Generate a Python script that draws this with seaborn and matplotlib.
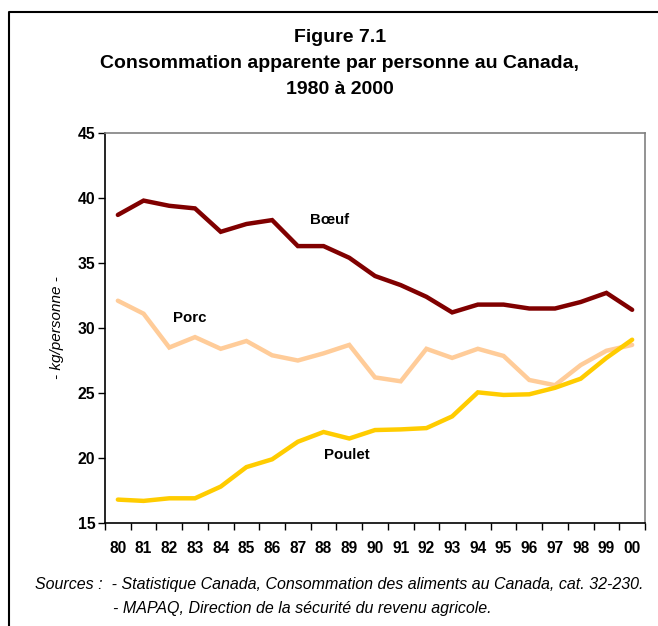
#!/usr/bin/env python3
# -*- coding: utf-8 -*-
"""
Figure 7.1 - Consommation apparente par personne au Canada, 1980 à 2000
"""

import pandas as pd
import matplotlib
matplotlib.use('Agg')
import matplotlib.pyplot as plt
from matplotlib.lines import Line2D
import seaborn as sns

# 데이터 (kg/personne)
annees = ['80', '81', '82', '83', '84', '85', '86', '87', '88', '89', '90',
          '91', '92', '93', '94', '95', '96', '97', '98', '99', '00']
boeuf = [38.7, 39.8, 39.4, 39.2, 37.4, 38.0, 38.3, 36.3, 36.3, 35.4, 34.0,
         33.3, 32.4, 31.2, 31.8, 31.8, 31.5, 31.5, 32.0, 32.7, 31.4]
porc = [32.1, 31.1, 28.5, 29.3, 28.4, 29.0, 27.9, 27.5, 28.05, 28.7, 26.2,
        25.9, 28.4, 27.7, 28.4, 27.85, 26.0, 25.6, 27.15, 28.25, 28.7]
poulet = [16.8, 16.7, 16.9, 16.9, 17.8, 19.3, 19.9, 21.25, 22.0, 21.5, 22.15,
          22.2, 22.3, 23.2, 25.05, 24.85, 24.9, 25.4, 26.1, 27.7, 29.1]
y_ticks = [15, 20, 25, 30, 35, 40, 45]

series = {
    'Bœuf': (boeuf, '#800000'),
    'Porc': (porc, '#FFCC99'),
    'Poulet': (poulet, '#FFCC00'),
}
# position des étiquettes (indice année, valeur)
etiquettes = {'Bœuf': (8.25, 38.3), 'Porc': (2.8, 30.8), 'Poulet': (8.9, 20.2)}

sns.set_style('white')
plt.rcParams['font.family'] = ['Liberation Sans', 'DejaVu Sans']
plt.rcParams['text.color'] = 'black'
plt.rcParams['axes.labelcolor'] = 'black'
plt.rcParams['xtick.color'] = 'black'
plt.rcParams['ytick.color'] = 'black'

fig = plt.figure(figsize=(6.58, 6.26), dpi=100)
ax = fig.add_axes([105 / 658, 1 - 523 / 626, 540 / 658, 390 / 626])

x_pos = list(range(len(annees)))
for nom, (valeurs, couleur) in series.items():
    df = pd.DataFrame({'x': x_pos, 'y': valeurs})
    sns.lineplot(data=df, x='x', y='y', color=couleur, linewidth=3.2,
                 ax=ax, solid_joinstyle='miter')

for nom, (xe, ye) in etiquettes.items():
    ax.text(xe, ye, nom, ha='center', va='center', fontsize=10.8,
            fontweight='bold')

ax.set_xlim(-0.5, len(annees) - 0.5)
ax.set_ylim(15, 45)
ax.set_yticks(y_ticks)
ax.set_yticklabels([str(v) for v in y_ticks], fontsize=11.3, fontweight='bold')
ax.set_xticks(x_pos)
ax.set_xticklabels(annees, fontsize=11.2, fontweight='bold')
ax.set_xticks([i - 0.5 for i in range(len(annees) + 1)], minor=True)
ax.tick_params(axis='x', which='major', length=0, pad=13)
ax.tick_params(axis='x', which='minor', length=5, width=1, color='black',
               direction='out')
ax.tick_params(axis='y', length=5, width=1, color='black', direction='out',
               pad=2, left=True)
ax.tick_params(axis='x', bottom=True, which='both')
ax.set_xlabel('')
ax.set_ylabel('- kg/personne -', fontsize=11, fontstyle='italic', labelpad=10)

for cote in ['left', 'bottom']:
    ax.spines[cote].set_color('black')
    ax.spines[cote].set_linewidth(1.2)
for cote in ['top', 'right']:
    ax.spines[cote].set_color('#808080')
    ax.spines[cote].set_linewidth(1.2)
ax.grid(False)

# titre
fig.text(340 / 658, 1 - 37 / 626, 'Figure 7.1', ha='center', va='center',
         fontsize=14, fontweight='bold')
fig.text(340 / 658, 1 - 64 / 626,
         'Consommation apparente par personne au Canada,',
         ha='center', va='center', fontsize=14, fontweight='bold')
fig.text(340 / 658, 1 - 90 / 626, '1980 à 2000', ha='center', va='center',
         fontsize=14, fontweight='bold')

# sources
fig.text(35 / 658, 1 - 585 / 626,
         'Sources :  - Statistique Canada, Consommation des aliments au Canada, cat. 32-230.',
         ha='left', va='center', fontsize=11.5, fontstyle='italic')
fig.text(113 / 658, 1 - 609 / 626,
         '- MAPAQ, Direction de la sécurité du revenu agricole.',
         ha='left', va='center', fontsize=11.5, fontstyle='italic')

# cadre extérieur
cadre = Line2D([9 / 658, 9 / 658, 1.0], [0.0, 1 - 12 / 626, 1 - 12 / 626],
               transform=fig.transFigure, color='black', linewidth=1.5)
fig.add_artist(cadre)

fig.savefig('out.png', dpi=100, facecolor='white')
